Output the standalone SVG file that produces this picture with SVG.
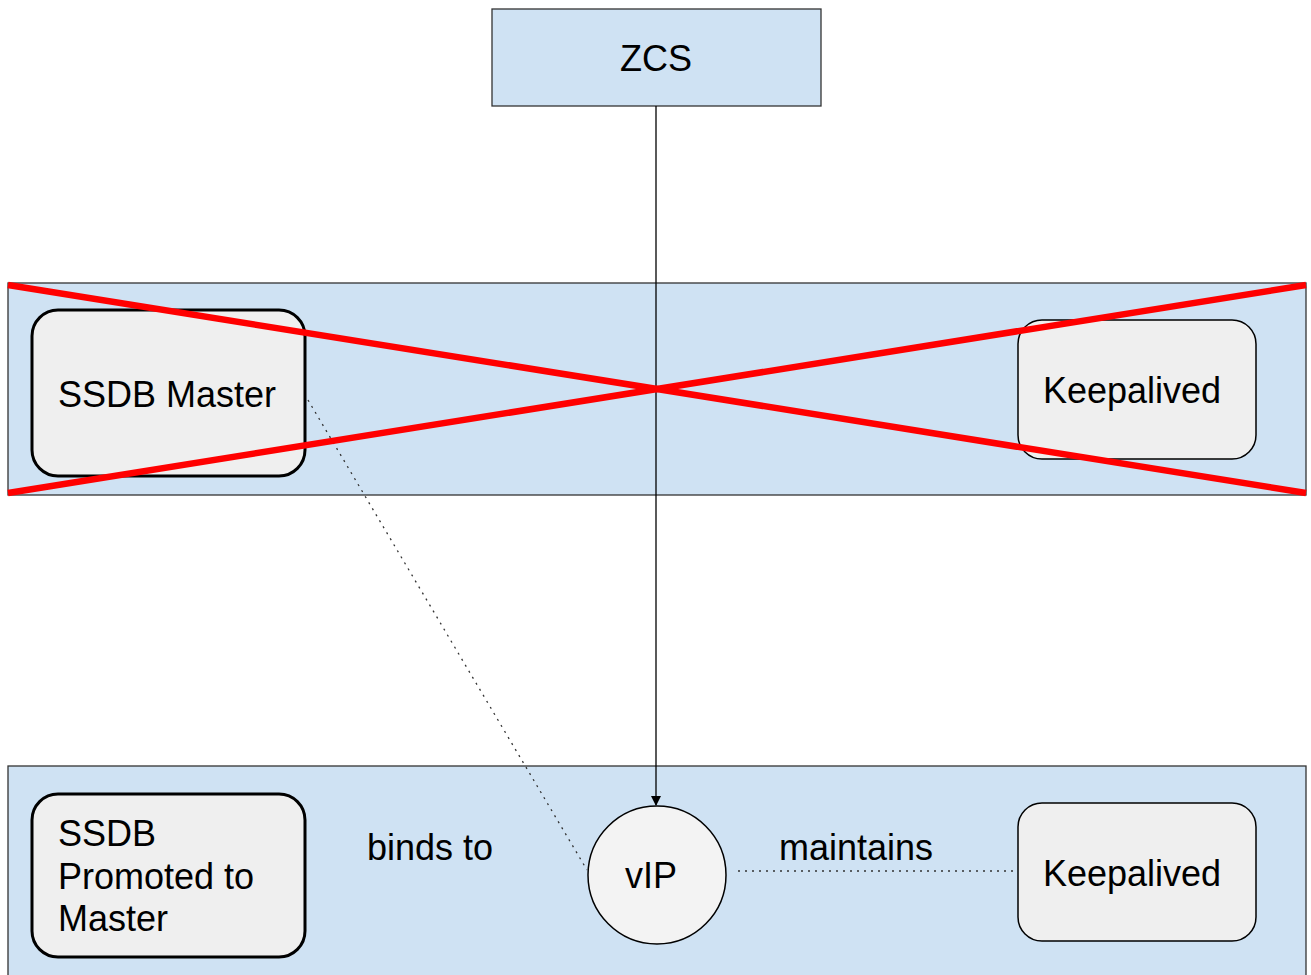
<svg xmlns="http://www.w3.org/2000/svg" width="1311" height="975" viewBox="0 0 1311 975">
<style>
.band{fill:#cfe2f3;stroke:#333;stroke-width:1.3}
.box{fill:#efefef;stroke:#000}
.t{font-family:"Liberation Sans",Arial,sans-serif;font-size:36px;fill:#000}
.dot{stroke:#333;stroke-width:1.3;stroke-dasharray:2,5;fill:none}
.x{stroke:#ff0000;stroke-width:6.5}
</style>
<defs>
<marker id="arr" markerWidth="10" markerHeight="10" refX="9" refY="5" orient="auto" markerUnits="userSpaceOnUse">
<path d="M0,0 L10,5 L0,10 z" fill="#000"/>
</marker>
</defs>
<rect width="1311" height="975" fill="#fff"/>
<g id="zcs">
<rect x="492" y="9" width="329" height="97" class="band"/>
<text x="656" y="71" class="t" text-anchor="middle">ZCS</text>
</g>
<g id="band-top"><rect x="8" y="283" width="1298" height="212" class="band"/></g>
<g id="band-bottom"><rect x="8" y="766" width="1298" height="220" class="band"/></g>
<g id="ssdb-master">
<rect x="32" y="310" width="273" height="166" rx="26" class="box" stroke-width="3"/>
<text x="58" y="407" class="t">SSDB Master</text>
</g>
<g id="keep-top">
<rect x="1018" y="320" width="238" height="139" rx="24" class="box" stroke-width="1.5"/>
<text x="1043" y="403" class="t">Keepalived</text>
</g>
<g id="ssdb-promoted">
<rect x="32" y="794" width="273" height="163" rx="26" class="box" stroke-width="3"/>
<text class="t"><tspan x="58" y="846">SSDB</tspan><tspan x="58" y="889">Promoted to</tspan><tspan x="58" y="931">Master</tspan></text>
</g>
<g id="vip">
<circle cx="657" cy="875" r="69" fill="#f3f3f3" stroke="#000" stroke-width="1.5"/>
<text x="651" y="888" class="t" text-anchor="middle">vIP</text>
</g>
<g id="keep-bottom">
<rect x="1018" y="803" width="238" height="138" rx="24" class="box" stroke-width="1.5"/>
<text x="1043" y="886" class="t">Keepalived</text>
</g>
<g id="connectors">
<line x1="656" y1="106" x2="656" y2="805" stroke="#000" stroke-width="1.3" marker-end="url(#arr)"/>
<line x1="308" y1="400" x2="587" y2="870" class="dot"/>
<line x1="738" y1="871" x2="1016" y2="871" class="dot"/>
</g>
<g id="labels">
<text x="367" y="860" class="t">binds to</text>
<text x="779" y="860" class="t">maintains</text>
</g>
<g id="cross">
<line x1="8" y1="285" x2="1306" y2="493" class="x"/>
<line x1="8" y1="493" x2="1306" y2="285" class="x"/>
</g>
</svg>
